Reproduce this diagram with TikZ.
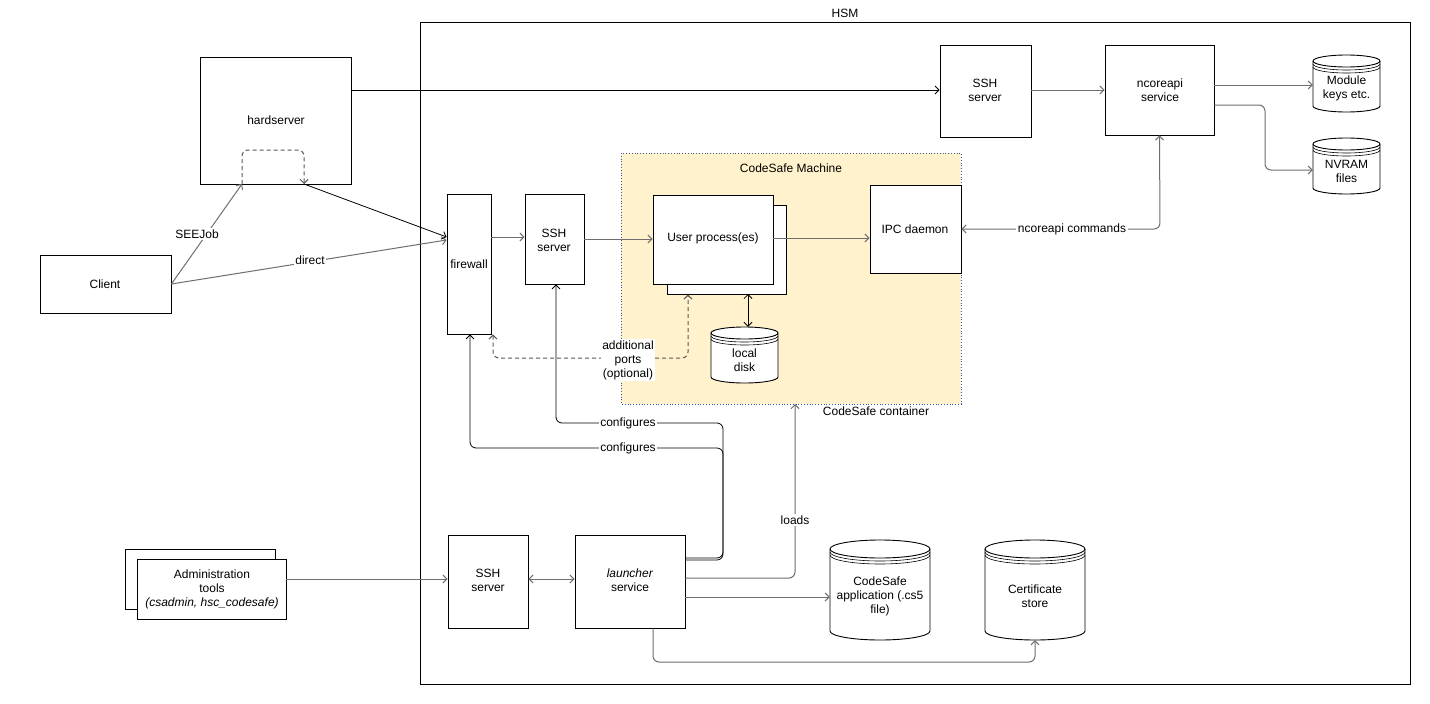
\documentclass[tikz,border=0pt]{standalone}
\usepackage{fontspec}
\setmainfont{Liberation Sans}
\usetikzlibrary{arrows.meta}
\definecolor{cfill}{HTML}{FFF2CC}
\definecolor{cbord}{HTML}{3355AA}
\definecolor{ln}{HTML}{6E6E6E}
\tikzset{
 box/.style={draw=black,fill=white,align=center,inner sep=0pt,line width=0.8pt},
 con/.style={draw=ln,line width=1pt,-{Straight Barb[length=4pt,width=8pt]},rounded corners=6pt},
 dcon/.style={con,draw=black,line width=0.8pt},
 dcn/.style={con,draw=black!65,dash pattern=on 4pt off 3pt},
 both/.style={{Straight Barb[length=4pt,width=8pt]}-{Straight Barb[length=4pt,width=8pt]}},
 lbl/.style={fill=white,inner sep=1.5pt,align=center},
}
\newcommand\mybox[5]{\node[box,minimum width=#3-#1,minimum height=#4-#2] (#5) at ({(#1+#3)/2},{(#2+#4)/2}) {};}
\newcommand\cyl[7]{%
 \pgfmathsetmacro\cw{(#3-#1)/2}%
 \draw[fill=white,line width=0.9pt] (#1,#2+#5) -- (#1,#4-#5) arc[start angle=180,end angle=360,x radius=\cw pt,y radius=#5 pt] -- (#3,#2+#5) arc[start angle=0,end angle=180,x radius=\cw pt,y radius=#5 pt] -- cycle;
 \draw[line width=0.9pt] (#1,#2+#5) arc[start angle=180,end angle=360,x radius=\cw pt,y radius=#5 pt];
 \draw[line width=0.6pt] (#1,#2+#5+3) arc[start angle=180,end angle=360,x radius=\cw pt,y radius=#5 pt];
 \draw[line width=0.6pt] (#1,#2+#5+6) arc[start angle=180,end angle=360,x radius=\cw pt,y radius=#5 pt];
 \node[inner sep=0pt,minimum width=#3-#1,minimum height=#4-#2] (#6) at ({(#1+#3)/2},{(#2+#4)/2}) {};
 \node[align=center] at ({(#1+#3)/2},{(#2+#4)/2+#5/2+2}) {#7};}
\begin{document}
\begin{tikzpicture}[x=1pt,y=-1pt,font=\fontsize{12}{14}\selectfont]
\useasboundingbox[fill=white] (0,0) rectangle (1430,704);
% HSM
\draw[line width=0.8pt] (420,22) rectangle (1410,684);
\node at (845,13) {HSM};
% CodeSafe machine
\draw[fill=cfill,draw=cbord,dotted,line width=0.8pt] (621,153) rectangle (961,404);
\node at (791,168) {CodeSafe Machine};
\node at (876,411) {CodeSafe container};
% boxes
\mybox{200}{57}{351}{184}{hard} \node at (276,120) {hardserver};
\mybox{40}{255}{171}{313}{client} \node at (105,284) {Client};
\mybox{447}{194}{491}{334}{fw} \node at (469,264) {firewall};
\mybox{525}{194}{584}{284}{ssh2} \node[align=center] at (554,240) {SSH\\server};
\mybox{940}{45}{1031}{137}{ssh1} \node[align=center] at (985,90) {SSH\\server};
\mybox{1105}{45}{1214}{135}{nco} \node[align=center] at (1160,90) {ncoreapi\\service};
\mybox{667}{205}{786}{294}{upb}
\mybox{653}{195}{773}{284}{up} \node at (713,238) {User process(es)};
\mybox{870}{185}{961}{273}{ipc} \node at (915,229) {IPC daemon};
\mybox{448}{535}{528}{628}{ssh3} \node[align=center] at (488,580) {SSH\\server};
\mybox{575}{535}{685}{628}{lau} \node[align=center] at (630,580) {\textit{launcher}\\service};
\mybox{125}{549}{275}{609}{admb}
\mybox{137}{559}{286}{619}{adm} \node[align=center] at (212,589) {Administration\\tools\\\textit{(csadmin, hsc\_codesafe)}};
% cylinders
\cyl{1313}{55}{1380}{112}{6}{mod}{Module\\keys etc.}
\cyl{1313}{138}{1380}{194}{6}{nv}{NVRAM\\files}
\cyl{711}{327}{778}{383}{6}{disk}{local\\disk}
\cyl{830}{540}{930}{640}{9}{app}{CodeSafe\\application (.cs5\\file)}
\cyl{985}{540}{1085}{640}{9}{cert}{Certificate\\store}
% connectors
\draw[dcon] (hard.east|-0,90) -- (ssh1.west|-0,90);
\draw[con] (ssh1.east|-0,90) -- (nco.west|-0,90);
\draw[con] (nco.east|-0,85) -- (mod.west|-0,85);
\draw[con] (nco.east|-0,105) -- (1265,105) -- (1265,170) -- (nv.west|-0,170);
\draw[con] (client.east|-0,284) -- (242,184);
\node[lbl] at (197,234) {SEEJob};
\draw[con] (client.east|-0,284) -- (fw.west|-0,240);
\node[lbl] at (310,260) {direct};
\draw[dcn] (242,184) -- (242,150) -- (304,150) -- (304,184);
\draw[dcon] (304,184) -- (fw.west|-0,237);
\draw[con] (fw.east|-0,237) -- (ssh2.west|-0,237);
\draw[con] (ssh2.east|-0,239) -- (up.west|-0,239);
\draw[con] (up.east|-0,238) -- (ipc.west|-0,238);
\draw[con,both] (nco.south) -- (1160,229) -- (ipc.east|-0,229);
\node[lbl] at (1072,229) {ncoreapi commands};
\draw[dcon,both] (748,294) -- (disk.north-|748,0);
\draw[dcn,both] (fw.south-|493,0) -- (493,358) -- (688,358) -- (upb.south-|688,0);
\node[lbl] at (628,360) {additional\\ports\\(optional)};
\draw[dcon] (lau.east|-0,558) -- (723,558) -- (723,423) -- (556,423) -- (ssh2.south-|556,0);
\node[lbl] at (628,423) {configures};
\draw[dcon] (lau.east|-0,560) -- (723,560) -- (723,448) -- (470,448) -- (fw.south-|470,0);
\node[lbl] at (628,448) {configures};
\draw[con] (lau.east|-0,578) -- (795,578) -- (795,404);
\node[lbl] at (795,520) {loads};
\draw[con] (lau.east|-0,597) -- (app.west|-0,597);
\draw[con] (lau.south-|653,0) -- (653,662) -- (1035,662) -- (cert.south-|1035,0);
\draw[con] (adm.east|-0,579) -- (ssh3.west|-0,579);
\draw[con,both] (ssh3.east|-0,579) -- (lau.west|-0,579);
\end{tikzpicture}
\end{document}
